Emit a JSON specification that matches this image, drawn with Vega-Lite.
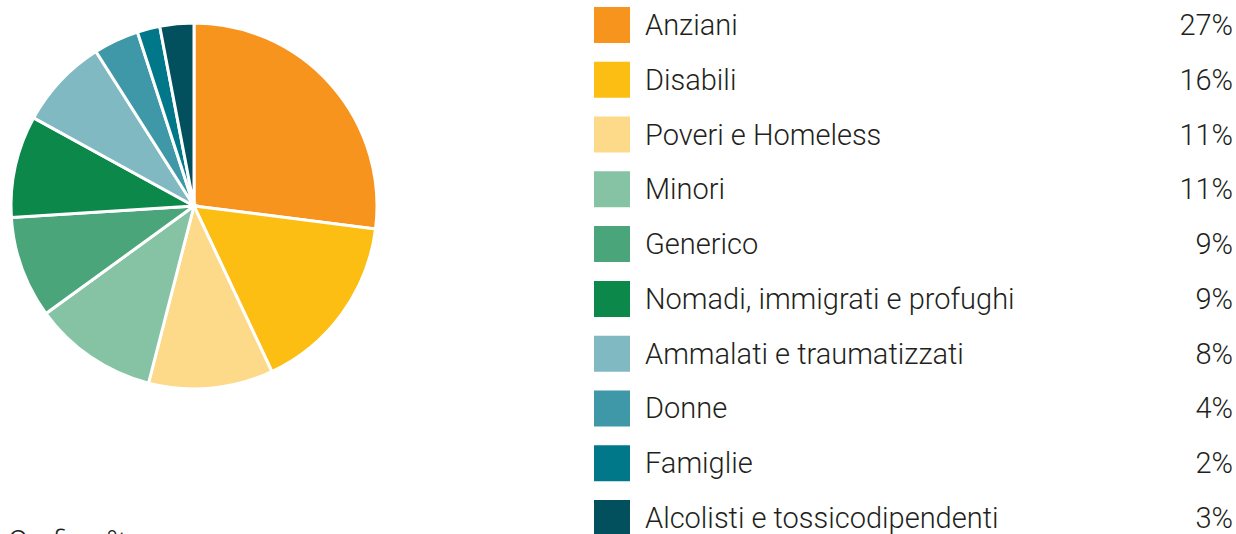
{
  "$schema": "https://vega.github.io/schema/vega-lite/v6.json",
  "padding": 0,
  "background": "white",
  "config": {"view": {"stroke": null}, "font": "Roboto"},
  "data": {"values": [
    {"rank": 1, "categoria": "Anziani", "quota": 0.27},
    {"rank": 2, "categoria": "Disabili", "quota": 0.16},
    {"rank": 3, "categoria": "Poveri e Homeless", "quota": 0.11},
    {"rank": 4, "categoria": "Minori", "quota": 0.11},
    {"rank": 5, "categoria": "Generico", "quota": 0.09},
    {"rank": 6, "categoria": "Nomadi, immigrati e profughi", "quota": 0.09},
    {"rank": 7, "categoria": "Ammalati e traumatizzati", "quota": 0.08},
    {"rank": 8, "categoria": "Donne", "quota": 0.04},
    {"rank": 9, "categoria": "Famiglie", "quota": 0.02},
    {"rank": 10, "categoria": "Alcolisti e tossicodipendenti", "quota": 0.03}
  ]},
  "hconcat": [
    {
      "width": 388,
      "height": 412,
      "title": {"text": "Grafico %", "orient": "bottom", "anchor": "start", "offset": 116, "dx": 8, "baseline": "top", "fontSize": 29, "fontWeight": 300, "color": "#231F20", "font": "Roboto"},
      "mark": {"type": "arc", "outerRadius": 183, "stroke": "white", "strokeWidth": 3},
      "encoding": {
        "theta": {"field": "quota", "type": "quantitative", "stack": true},
        "order": {"field": "rank", "type": "quantitative"},
        "color": {
          "field": "categoria", "type": "nominal", "legend": null,
          "scale": {
            "domain": ["Anziani", "Disabili", "Poveri e Homeless", "Minori", "Generico", "Nomadi, immigrati e profughi", "Ammalati e traumatizzati", "Donne", "Famiglie", "Alcolisti e tossicodipendenti"],
            "range": ["#F7941D", "#FCBE13", "#FDD98A", "#86C3A5", "#4AA57A", "#0C884A", "#81B9C3", "#3F98A8", "#00788A", "#02505E"]
          }
        }
      }
    },
    {
      "width": 642,
      "height": 534,
      "encoding": {
        "y": {"field": "categoria", "type": "ordinal", "axis": null,
          "sort": {"field": "rank", "order": "ascending"},
          "scale": {"type": "point", "range": [25, 518], "padding": 0}}
      },
      "layer": [
        {
          "mark": {"type": "square", "size": 1296, "opacity": 1, "filled": true, "strokeWidth": 0},
          "encoding": {
            "x": {"datum": 18, "type": "quantitative", "axis": null, "scale": {"domain": [0, 642], "range": [0, 642]}},
            "color": {
              "field": "categoria", "type": "nominal", "legend": null,
              "scale": {
                "domain": ["Anziani", "Disabili", "Poveri e Homeless", "Minori", "Generico", "Nomadi, immigrati e profughi", "Ammalati e traumatizzati", "Donne", "Famiglie", "Alcolisti e tossicodipendenti"],
                "range": ["#F7941D", "#FCBE13", "#FDD98A", "#86C3A5", "#4AA57A", "#0C884A", "#81B9C3", "#3F98A8", "#00788A", "#02505E"]
              }
            }
          }
        },
        {
          "mark": {"type": "text", "align": "left", "baseline": "middle", "dy": 1, "fontSize": 29, "fontWeight": 300, "color": "#231F20", "font": "Roboto"},
          "encoding": {
            "x": {"datum": 51, "type": "quantitative", "axis": null, "scale": {"domain": [0, 642], "range": [0, 642]}},
            "text": {"field": "categoria"}
          }
        },
        {
          "mark": {"type": "text", "align": "right", "baseline": "middle", "dy": 1, "fontSize": 29, "fontWeight": 300, "color": "#231F20", "font": "Roboto"},
          "encoding": {
            "x": {"datum": 639, "type": "quantitative", "axis": null, "scale": {"domain": [0, 642], "range": [0, 642]}},
            "text": {"field": "quota", "format": ".0%"}
          }
        }
      ]
    }
  ],
  "spacing": 206
}
